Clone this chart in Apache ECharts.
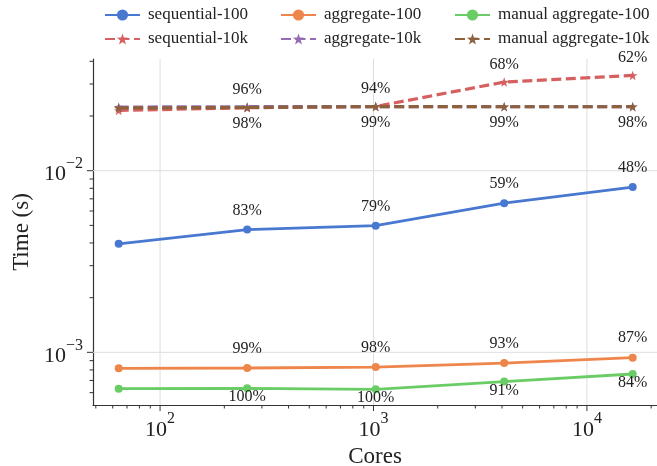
<!DOCTYPE html>
<html>
<head>
<meta charset="utf-8">
<script src="https://cdn.jsdelivr.net/npm/echarts@6/dist/echarts.min.js"></script>
<style>
html, body { margin: 0; padding: 0; background: #ffffff; }
#chart { width: 657px; height: 466px; }
</style>
</head>
<body>
<div id="chart"></div>
<script>
// ---------- data ----------
const cores = [64, 256, 1024, 4096, 16384];
const sequential100 = [0.00396, 0.00474, 0.00498, 0.00662, 0.00813];
const aggregate100 = [0.000817, 0.000820, 0.000830, 0.000873, 0.000935];
const manualAggregate100 = [0.000631, 0.000634, 0.000626, 0.000690, 0.000760];
const sequential10k = [0.02147, 0.02220, 0.02257, 0.03076, 0.03346];
const aggregate10k = [0.02240, 0.02250, 0.02255, 0.02252, 0.02252];
const manualAggregate10k = [0.02214, 0.02230, 0.02255, 0.02249, 0.02250];

const effSequential100 = ['', '83%', '79%', '59%', '48%'];
const effAggregate100 = ['', '99%', '98%', '93%', '87%'];
const effManualAggregate100 = ['', '100%', '100%', '91%', '84%'];
const effSequential10k = ['', '96%', '94%', '68%', '62%'];
const effManualAggregate10k = ['', '98%', '99%', '99%', '98%'];

const seriesNames = ['sequential-100', 'aggregate-100', 'manual aggregate-100',
                     'sequential-10k', 'aggregate-10k', 'manual aggregate-10k'];

// tick values
const xMajorTicks = [100, 1000, 10000];
const xMinorTicks = [50, 60, 70, 80, 90, 200, 300, 400, 500, 600, 700, 800, 900,
                     2000, 3000, 4000, 5000, 6000, 7000, 8000, 9000, 20000];
const yMajorTicks = [0.001, 0.01];
const yMinorTicks = [0.0006, 0.0007, 0.0008, 0.0009,
                     0.002, 0.003, 0.004, 0.005, 0.006, 0.007, 0.008, 0.009,
                     0.02, 0.03, 0.04];

// axis ranges
const X_MIN = 48.5, X_MAX = 21300;
const Y_MIN = 0.000513, Y_MAX = 0.0412;

// ---------- styles ----------
const FONT = "'Liberation Serif', 'DejaVu Serif', serif";
const TXT = '#222222';
const AXIS = '#333333';
const GRID = '#dddddd';
const colors = ['#4878d0', '#ee854a', '#6acc64', '#d65f5f', '#956cb4', '#8c613c'];
const STAR = 'path://M0,-10 L2.35,-3.24 L9.51,-3.09 L3.8,1.24 L5.88,8.09 L0,4 L-5.88,8.09 L-3.8,1.24 L-9.51,-3.09 L-2.35,-3.24 Z';

function pairs(vals) { return cores.map((c, i) => [c, vals[i]]); }

function isPow10(v) {
  const l = Math.log10(v);
  return Math.abs(l - Math.round(l)) < 1e-6;
}
function powLabel(v) {
  if (!isPow10(v)) return '';
  const e = Math.round(Math.log10(v));
  return '{b|10}{s|' + String(e).replace('-', '\u2212') + '}';
}
const richSup = {
  b: { fontSize: 22, fontFamily: FONT, color: TXT, lineHeight: 30, verticalAlign: 'bottom' },
  s: { fontSize: 16, fontFamily: FONT, color: TXT, lineHeight: 12, verticalAlign: 'top' }
};

function labelCfg(arr, pos, dist) {
  return {
    show: true, position: pos, distance: dist,
    fontFamily: FONT, fontSize: 16, lineHeight: 16, color: TXT,
    formatter: p => arr[p.dataIndex]
  };
}

function lineSeries(name, vals, idx, dashed, lbl) {
  return {
    name: name, type: 'line', data: pairs(vals),
    symbol: dashed ? STAR : 'circle',
    symbolSize: dashed ? 9.5 : 8,
    showAllSymbol: true,
    color: colors[idx],
    lineStyle: { width: dashed ? 3.2 : 2.8, type: dashed ? [10, 4.5] : 'solid', color: colors[idx] },
    itemStyle: { color: colors[idx] },
    z: 5 + idx,
    label: lbl || { show: false }
  };
}

// custom series drawing ticks / grid lines through the axes
function xTickSeries(vals, len) {
  return {
    type: 'custom', silent: true, clip: false, z: 3,
    data: vals.map(v => [v, Y_MIN]),
    renderItem: (params, api) => {
      const p = api.coord([api.value(0), Y_MIN]);
      return { type: 'line', shape: { x1: p[0], y1: p[1], x2: p[0], y2: p[1] + len },
               style: { stroke: AXIS, lineWidth: 1 } };
    }
  };
}
function yTickSeries(vals, len) {
  return {
    type: 'custom', silent: true, clip: false, z: 3,
    data: vals.map(v => [X_MIN, v]),
    renderItem: (params, api) => {
      const p = api.coord([X_MIN, api.value(1)]);
      return { type: 'line', shape: { x1: p[0] - len, y1: p[1], x2: p[0], y2: p[1] },
               style: { stroke: AXIS, lineWidth: 1 } };
    }
  };
}
function xGridSeries(vals) {
  return {
    type: 'custom', silent: true, clip: false, z: 1,
    data: vals.map(v => [v, Y_MIN]),
    renderItem: (params, api) => {
      const a = api.coord([api.value(0), Y_MIN]);
      const b = api.coord([api.value(0), Y_MAX]);
      return { type: 'line', shape: { x1: a[0], y1: a[1], x2: b[0], y2: b[1] },
               style: { stroke: GRID, lineWidth: 1 } };
    }
  };
}
function yGridSeries(vals) {
  return {
    type: 'custom', silent: true, clip: false, z: 1,
    data: vals.map(v => [X_MIN, v]),
    renderItem: (params, api) => {
      const a = api.coord([X_MIN, api.value(1)]);
      const b = api.coord([X_MAX, api.value(1)]);
      return { type: 'line', shape: { x1: a[0], y1: a[1], x2: b[0], y2: b[1] },
               style: { stroke: GRID, lineWidth: 1 } };
    }
  };
}

function legendCol(left, names) {
  return {
    orient: 'vertical', left: left, top: 1,
    itemWidth: 35, itemHeight: 14, itemGap: 6,
    data: names,
    textStyle: { fontFamily: FONT, fontSize: 17, lineHeight: 18, color: TXT, padding: [0, 0, 0, 3] },
    selectedMode: false
  };
}

const chart = echarts.init(document.getElementById('chart'), null, { renderer: 'canvas' });
chart.setOption({
  animation: false,
  backgroundColor: '#ffffff',
  legend: [
    legendCol(99, [seriesNames[0], seriesNames[3]]),
    legendCol(275, [seriesNames[1], seriesNames[4]]),
    legendCol(449, [seriesNames[2], seriesNames[5]])
  ],
  grid: { left: 93, right: 0, top: 59, bottom: 61, containLabel: false, outerBoundsMode: 'none' },
  xAxis: {
    type: 'log', logBase: 10, min: X_MIN, max: X_MAX,
    name: 'Cores', nameLocation: 'middle', nameGap: 34,
    nameTextStyle: { fontFamily: FONT, fontSize: 23, color: TXT },
    axisLine: { show: true, lineStyle: { color: AXIS, width: 1.2 } },
    axisTick: { show: false },
    splitLine: { show: false },
    minorTick: { show: false },
    axisLabel: { formatter: powLabel, rich: richSup, margin: 6, showMinLabel: true, showMaxLabel: true }
  },
  yAxis: {
    type: 'log', logBase: 10, min: Y_MIN, max: Y_MAX,
    name: 'Time (s)', nameLocation: 'middle', nameGap: 58, nameRotate: 90,
    nameTextStyle: { fontFamily: FONT, fontSize: 23, color: TXT },
    axisLine: { show: true, lineStyle: { color: AXIS, width: 1.2 } },
    axisTick: { show: false },
    splitLine: { show: false },
    axisLabel: { formatter: powLabel, rich: richSup, margin: 10 }
  },
  series: [
    xGridSeries(xMajorTicks),
    yGridSeries(yMajorTicks),
    xTickSeries(xMajorTicks, 6),
    xTickSeries(xMinorTicks, 3.5),
    yTickSeries(yMajorTicks, 6),
    yTickSeries(yMinorTicks, 3.5),
    lineSeries(seriesNames[0], sequential100, 0, false, labelCfg(effSequential100, 'top', 7)),
    lineSeries(seriesNames[1], aggregate100, 1, false, labelCfg(effAggregate100, 'top', 7.5)),
    lineSeries(seriesNames[2], manualAggregate100, 2, false, labelCfg(effManualAggregate100, 'bottom', -3)),
    lineSeries(seriesNames[3], sequential10k, 3, true, labelCfg(effSequential10k, 'top', 5)),
    lineSeries(seriesNames[4], aggregate10k, 4, true, null),
    lineSeries(seriesNames[5], manualAggregate10k, 5, true, labelCfg(effManualAggregate10k, 'bottom', 3.5))
  ]
});
</script>
</body>
</html>
